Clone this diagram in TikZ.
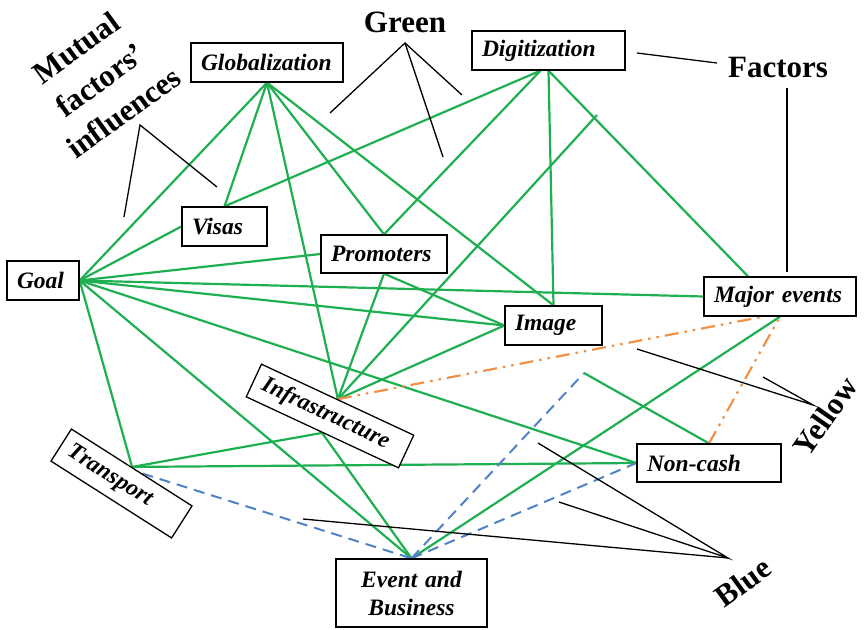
\documentclass[tikz,border=0pt]{standalone}
\usepackage{fontspec}
\setmainfont{Liberation Serif}
\usetikzlibrary{calc}
\definecolor{linkgreen}{RGB}{30,176,80}
\definecolor{linkorange}{RGB}{240,145,70}
\definecolor{linkblue}{RGB}{80,130,200}
\pgfdeclarelayer{background}
\pgfsetlayers{background,main}
\begin{document}
\begin{tikzpicture}[x=1pt,y=-1pt,
  factor/.style={draw, line width=1.3pt, fill=white, inner xsep=10pt, inner ysep=0pt,
    align=left, font=\fontsize{23.5}{28}\selectfont\bfseries\itshape},
  heading/.style={font=\fontsize{31}{40}\selectfont\bfseries, inner sep=0pt},
  link/.style={linkgreen, line width=2.2pt},
  yellowlink/.style={linkorange, line width=2.2pt,
    dash pattern=on 14pt off 6pt on 2.5pt off 6pt on 2.5pt off 6pt},
  bluelink/.style={linkblue, line width=2pt, dash pattern=on 11pt off 7pt},
  pointer/.style={black, line width=1.3pt}
]
\useasboundingbox (0,0) rectangle (864,629);

% factor boxes
\node[factor, text width=132pt, minimum height=39pt] (Glob) at (267,62.5) {Globalization};
\node[factor, text width=133pt, minimum height=39pt] (Dig) at (548.5,50.5) {Digitization};
\node[factor, text width=65pt, minimum height=39pt] (Visas) at (224.5,226.5) {Visas};
\node[factor, text width=106pt, minimum height=38pt] (Prom) at (384,254) {Promoters};
\node[factor, text width=52pt, minimum height=39pt] (Goal) at (43,280.5) {Goal};
\node[factor, text width=132pt, minimum height=39pt] (Maj) at (780,296.5) {Major events};
\node[factor, text width=77pt, minimum height=39pt] (Img) at (553.5,325.5) {Image};
\node[factor, text width=124pt, minimum height=38pt] (Cash) at (709,463) {Non-cash};
\node[factor, text width=131pt, minimum height=68pt, align=center] (Event) at (411.5,593) {Event and\\Business};
\node[factor, text width=148pt, minimum height=36pt, rotate=-25] (Infra) at (330,416) {Infrastructure};
\node[factor, text width=123pt, minimum height=38pt, rotate=-32.5] (Trans) at (121.5,483.5) {Transport};

% headings
\node[heading, anchor=base] (hGreen) at (405,32) {Green};
\node[heading, anchor=base] (hFactors) at (778,77) {Factors};
\node[heading, align=center, rotate=36] (hMutual) at (100,80) {Mutual\\factors’\\influences};
\node[heading, rotate=55] (hYellow) at (825,416) {Yellow};
\node[heading, rotate=36] (hBlue) at (743,582) {Blue};

% loose ends
\coordinate (dangle) at (597,115);
\coordinate (bend) at (584,373);
\coordinate (tStart) at ($(Trans.north)!0.17!(Trans.north east)$);

% pointer ends
\coordinate (gTip) at (405,43);
\coordinate (gA) at (330,113);
\coordinate (gB) at (443,157);
\coordinate (gC) at (462,95);
\coordinate (mTip) at (140,125);
\coordinate (mA) at (124,217);
\coordinate (mB) at (217,187);
\coordinate (fA) at (637,53);
\coordinate (fB) at (717,63);
\coordinate (fC) at (787,88);
\coordinate (fD) at (787,272);
\coordinate (yTip) at (813,405);
\coordinate (yA) at (637,349);
\coordinate (yB) at (763,377);
\coordinate (bTip) at (728,558);
\coordinate (bA) at (538,443);
\coordinate (bB) at (559,502);
\coordinate (bC) at (303,519);

\begin{pgfonlayer}{background}
% green links
\draw[link] (Glob.south) -- (Goal.east);
\draw[link] (Glob.south) -- (Visas.north);
\draw[link] (Glob.south) -- (Infra.north);
\draw[link] (Glob.south) -- (Prom.north);
\draw[link] (Glob.south) -- (Img.north);
\draw[link] ([xshift=-8pt]Dig.south) -- (Visas.north);
\draw[link] ([xshift=-8pt]Dig.south) -- (Prom.north);
\draw[link] (Dig.south) -- (Img.north);
\draw[link] (Dig.south) -- ([xshift=-32pt]Maj.north);
\draw[link] (Infra.north) -- (dangle);
\draw[link] (Goal.east) -- (Visas.west);
\draw[link] (Goal.east) -- (Prom.west);
\draw[link] (Goal.east) -- (Maj.west);
\draw[link] (Goal.east) -- (Img.west);
\draw[link] (Goal.east) -- (Cash.west);
\draw[link] (Goal.east) -- (Trans.north);
\draw[link] (Goal.east) -- (Event.north);
\draw[link] (Prom.south) -- (Infra.north);
\draw[link] (Prom.south) -- (Img.west);
\draw[link] (Infra.north) -- (Img.west);
\draw[link] (Infra.south) -- (Trans.north);
\draw[link] (Infra.south) -- (Event.north);
\draw[link] (Trans.north) -- (Cash.west);
\draw[link] (Event.north) -- (Maj.south);
\draw[link] (bend) -- (Cash.north);
% orange links
\draw[yellowlink] (Infra.north) -- ([xshift=-17pt]Maj.south);
\draw[yellowlink] (Cash.north) -- (Maj.south);
% blue links
\draw[bluelink] (tStart) -- (Event.north);
\draw[bluelink] (Event.north) -- (bend);
\draw[bluelink] (Event.north) -- (Cash.west);
% pointers to the headings
\draw[pointer] (gA) -- (gTip) -- (gB);
\draw[pointer] (gTip) -- (gC);
\draw[pointer] (mA) -- (mTip) -- (mB);
\draw[pointer] (fA) -- (fB);
\draw[pointer] (fC) -- (fD);
\draw[pointer] (yA) -- (yTip) -- (yB);
\draw[pointer] (bA) -- (bTip) -- (bB);
\draw[pointer] (bC) -- (bTip);
\end{pgfonlayer}
\end{tikzpicture}
\end{document}
